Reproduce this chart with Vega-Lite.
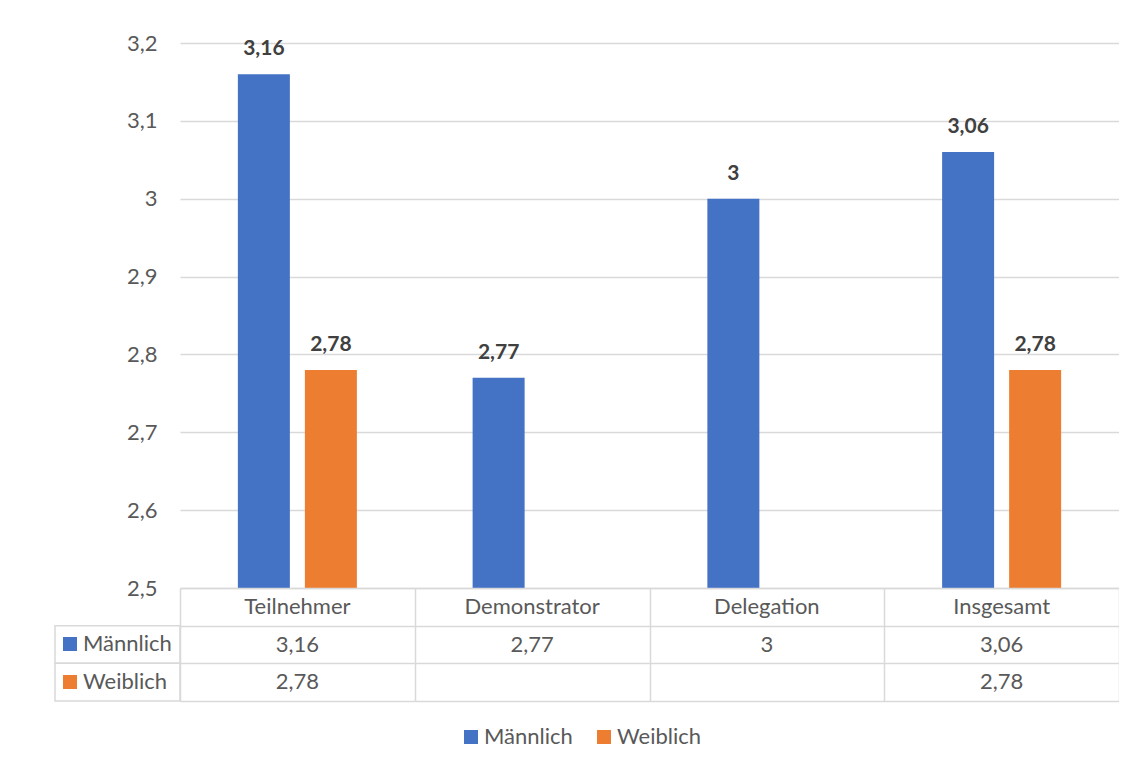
{
  "$schema": "https://vega.github.io/schema/vega-lite/v6.json",
  "padding": {"left": 54, "top": 32, "right": 0, "bottom": 0},
  "autosize": {"type": "pad"},
  "background": "white",
  "config": {
    "font": "Lato",
    "view": {"stroke": null},
    "axis": {"labelFont": "Lato", "labelColor": "#595959"},
    "legend": {"labelFont": "Lato", "labelColor": "#595959"}
  },
  "datasets": {
    "bars": [
      {"cat": "Teilnehmer", "g": "Männlich", "v": 3.16},
      {"cat": "Teilnehmer", "g": "Weiblich", "v": 2.78},
      {"cat": "Demonstrator", "g": "Männlich", "v": 2.77},
      {"cat": "Delegation", "g": "Männlich", "v": 3},
      {"cat": "Insgesamt", "g": "Männlich", "v": 3.06},
      {"cat": "Insgesamt", "g": "Weiblich", "v": 2.78}
    ]
  },
  "columns": 2,
  "spacing": 0,
  "bounds": "flush",
  "resolve": {
    "scale": {"x": "independent", "y": "independent", "color": "shared"},
    "legend": {"color": "independent"}
  },
  "concat": [
    {
      "width": 125,
      "height": 545,
      "data": {"values": [{}]},
      "mark": {"type": "text"},
      "encoding": {"text": {"value": ""}}
    },
    {
      "width": 939,
      "height": 545,
      "data": {"name": "bars"},
      "transform": [{"calculate": "replace(format(datum.v,'.2~f'),'.',',')", "as": "lbl"}],
      "encoding": {
        "x": {"field": "cat", "type": "nominal", "sort": null,
          "scale": {"domain": ["Teilnehmer", "Demonstrator", "Delegation", "Insgesamt"], "paddingInner": 0.493, "paddingOuter": 0.2465},
          "axis": null},
        "xOffset": {"field": "g", "type": "nominal",
          "scale": {"domain": ["Männlich", "Weiblich"], "paddingInner": 0.224, "paddingOuter": 0}},
        "y": {"field": "v", "type": "quantitative",
          "scale": {"domain": [2.5, 3.2], "nice": false, "zero": false},
          "axis": {"values": [2.5, 2.6, 2.7, 2.8, 2.9, 3, 3.1, 3.2],
            "labelExpr": "replace(format(datum.value,'.1~f'),'.',',')",
            "domain": false, "ticks": false, "grid": true, "gridColor": "#D9D9D9", "gridWidth": 1.5,
            "labelFontSize": 22, "labelPadding": 23, "labelColor": "#595959", "title": null}}
      },
      "layer": [
        {
          "mark": {"type": "bar"},
          "encoding": {
            "y2": {"datum": 2.5},
            "color": {"field": "g", "type": "nominal",
              "scale": {"domain": ["Männlich", "Weiblich"], "range": ["#4472C4", "#ED7D31"]},
              "legend": {"orient": "none", "legendX": 280, "legendY": 683, "direction": "horizontal",
                "title": null, "symbolType": "square", "symbolSize": 196, "symbolStrokeWidth": 0,
                "symbolOpacity": 1, "labelFontSize": 22, "labelOffset": 2, "columnPadding": 20, "padding": 0}}
          }
        },
        {
          "mark": {"type": "text", "dy": -19, "baseline": "alphabetic", "fontWeight": "bold", "fontSize": 21, "color": "#404040"},
          "encoding": {"text": {"field": "lbl"}}
        }
      ]
    },
    {
      "width": 125,
      "height": 113,
      "data": {"name": "bars"},
      "transform": [{"aggregate": [{"op": "count", "as": "n"}], "groupby": ["g"]}],
      "encoding": {
        "y": {"field": "g", "type": "nominal",
          "scale": {"domain": ["Kategorie", "Männlich", "Weiblich"], "paddingInner": 0, "paddingOuter": 0},
          "axis": null}
      },
      "layer": [
        {"mark": {"type": "rect", "fill": "transparent", "stroke": "#D9D9D9", "strokeWidth": 1.5}},
        {
          "mark": {"type": "square", "opacity": 0},
          "encoding": {
            "color": {"field": "g", "type": "nominal",
              "legend": {"orient": "none", "legendX": 4, "legendY": 45, "direction": "vertical",
                "title": null, "symbolType": "square", "symbolSize": 196, "symbolStrokeWidth": 0,
                "symbolOpacity": 1, "labelFontSize": 22, "labelOffset": 2, "rowPadding": 16, "padding": 0}}
          }
        }
      ]
    },
    {
      "width": 939,
      "height": 113,
      "data": {"name": "bars"},
      "encoding": {
        "x": {"field": "cat", "type": "nominal", "sort": null,
          "scale": {"domain": ["Teilnehmer", "Demonstrator", "Delegation", "Insgesamt"], "paddingInner": 0, "paddingOuter": 0},
          "axis": {"orient": "top", "grid": true, "tickBand": "extent", "labels": false, "ticks": false, "domain": false,
            "title": null, "gridColor": "#D9D9D9", "gridWidth": 1.5}}
      },
      "layer": [
        {
          "transform": [{"aggregate": [{"op": "count", "as": "n"}], "groupby": ["cat"]}],
          "mark": {"type": "text", "fontSize": 22, "color": "#595959"},
          "encoding": {
            "text": {"field": "cat"},
            "y": {"datum": "Kategorie", "type": "nominal",
              "scale": {"domain": ["Kategorie", "Männlich", "Weiblich"], "paddingInner": 0, "paddingOuter": 0},
              "axis": {"grid": true, "tickBand": "extent", "labels": false, "ticks": false, "domain": false,
                "title": null, "gridColor": "#D9D9D9", "gridWidth": 1.5}}
          }
        },
        {
          "transform": [{"calculate": "replace(format(datum.v,'.2~f'),'.',',')", "as": "lbl"}],
          "mark": {"type": "text", "fontSize": 22, "color": "#595959"},
          "encoding": {
            "text": {"field": "lbl"},
            "y": {"field": "g", "type": "nominal"}
          }
        }
      ]
    }
  ]
}
